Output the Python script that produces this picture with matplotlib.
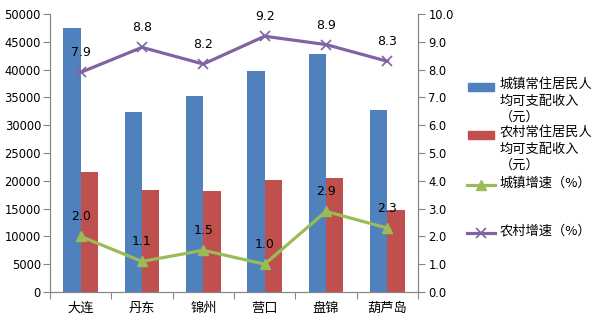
import numpy as np
import matplotlib.pyplot as plt
from matplotlib.patches import Rectangle
from matplotlib.lines import Line2D

plt.rcParams['font.family'] = ['DejaVu Sans', 'Noto Sans CJK SC']
cjk = ['Noto Sans CJK SC', 'DejaVu Sans']

cities = ['大连', '丹东', '锦州', '营口', '盘锦', '葫芦岛']
urban_income = [47400, 32300, 35250, 39750, 42800, 32750]  # 城镇 (元)
rural_income = [21600, 18400, 18200, 20150, 20500, 14800]  # 农村 (元)
urban_growth = [2.0, 1.1, 1.5, 1.0, 2.9, 2.3]
rural_growth = [7.9, 8.8, 8.2, 9.2, 8.9, 8.3]

labels = ['城镇常住居民人\n均可支配收入\n（元）',
          '农村常住居民人\n均可支配收入\n（元）',
          '城镇增速（%）',
          '农村增速（%）']

c_blue = '#4F81BD'
c_red = '#C0504D'
c_green = '#9BBB59'
c_purple = '#8064A2'
c_axis = '#868686'

W, H = 603, 332
fig = plt.figure(figsize=[W / 100, H / 100], dpi=100)
ax = fig.add_axes([50 / W, 40 / H, 368 / W, 278 / H])

x = np.arange(len(cities))
bw = 0.28
ax.bar(x - bw / 2, urban_income, width=bw, color=c_blue)
ax.bar(x + bw / 2, rural_income, width=bw, color=c_red)

ax.set_xlim(-0.5, len(cities) - 0.5)
ax.set_ylim(0, 50000)
ax.set_yticks(np.arange(0, 50001, 5000))
ax.set_xticks(np.arange(-0.5, len(cities), 1))
ax.set_xticklabels([])
ax.set_xticks(x, minor=True)
ax.set_xticklabels(cities, minor=True, family=cjk, fontsize=9.5)
ax.tick_params(axis='x', which='major', length=5, color=c_axis)
ax.tick_params(axis='x', which='minor', length=0, pad=7)
ax.tick_params(axis='y', length=5, color=c_axis, labelsize=8.3, pad=1.5)

ax2 = ax.twinx()
ax2.set_ylim(0, 10)
ax2.set_yticks(np.arange(0, 10.01, 1))
ax2.set_yticklabels([f'{v:.1f}' for v in np.arange(0, 10.01, 1)])
ax2.tick_params(axis='y', length=5, color=c_axis, labelsize=8.3, pad=2.5)

ax2.plot(x, urban_growth, color=c_green, lw=2.3, marker='^', ms=7)
ax2.plot(x, rural_growth, color=c_purple, lw=2.3, marker='x', ms=7, mew=1.2)
for xi, v in zip(x, urban_growth):
    ax2.annotate(f'{v:.1f}', (xi, v), xytext=(0, 14), textcoords='offset points',
                 ha='center', va='center', fontsize=9)
for xi, v in zip(x, rural_growth):
    ax2.annotate(f'{v:.1f}', (xi, v), xytext=(0, 14), textcoords='offset points',
                 ha='center', va='center', fontsize=9)

for a in (ax, ax2):
    a.spines['top'].set_visible(False)
    for s in ('left', 'right', 'bottom'):
        a.spines[s].set_color(c_axis)

# legend, drawn by hand so the keys sit on the first text line
tr = fig.transFigure
fig.patches.append(Rectangle((468 / W, 1 - 91 / H), 26 / W, 8 / H, transform=tr,
                             color=c_blue, figure=fig))
fig.patches.append(Rectangle((468 / W, 1 - 139 / H), 26 / W, 8 / H, transform=tr,
                             color=c_red, figure=fig))
fig.lines.append(Line2D([467 / W, 495 / W], [1 - 185 / H] * 2, transform=tr, color=c_green,
                        lw=2.3, figure=fig))
fig.lines.append(Line2D([481 / W], [1 - 185 / H], transform=tr, color=c_green,
                        marker='^', ms=7, figure=fig))
fig.lines.append(Line2D([467 / W, 495 / W], [1 - 233 / H] * 2, transform=tr, color=c_purple,
                        lw=2.3, figure=fig))
fig.lines.append(Line2D([481 / W], [1 - 233 / H], transform=tr, color=c_purple,
                        marker='x', ms=7, mew=1.2, figure=fig))
for lab, ytop in zip(labels, [78, 126, 177, 225]):
    fig.text(500 / W, 1 - ytop / H, lab, va='top', ha='left', family=cjk,
             fontsize=9.5, linespacing=1.35)

fig.savefig('out.png', dpi=100)
